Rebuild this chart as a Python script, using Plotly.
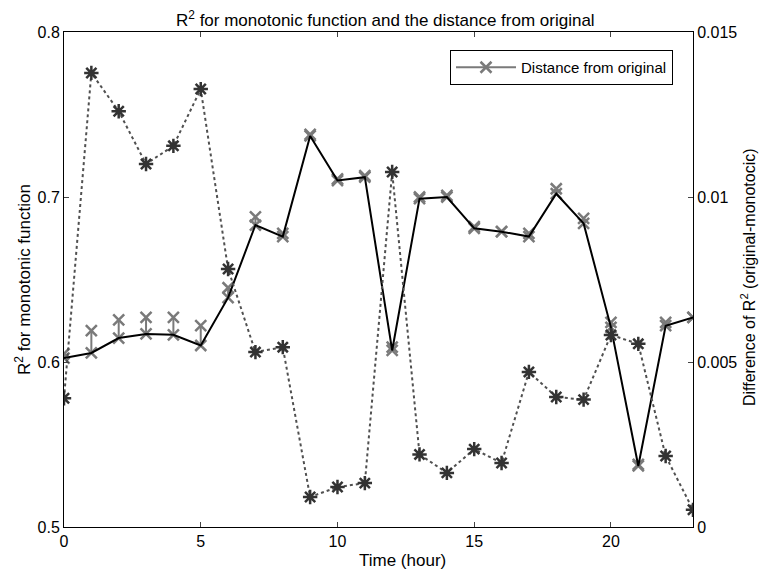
import plotly.graph_objects as go

hours = list(range(24))
# R^2 of monotonic function (left axis)
r2_mono = [0.6024, 0.6055, 0.6145, 0.617, 0.6165, 0.610, 0.639, 0.683, 0.676, 0.737,
           0.710, 0.712, 0.607, 0.699, 0.700, 0.681, 0.679, 0.676, 0.702, 0.684,
           0.621, 0.537, 0.622, 0.627]
# R^2 of original (left axis, gray x markers)
r2_orig = [0.605, 0.619, 0.6255, 0.627, 0.627, 0.622, 0.645, 0.688, 0.678, 0.738,
           0.711, 0.713, 0.609, 0.700, 0.701, 0.682, 0.679, 0.678, 0.705, 0.687,
           0.624, 0.538, 0.624, 0.627]
# Difference of R^2 (right axis)
r2_diff = [0.0039, 0.01376, 0.0126, 0.0110, 0.01155, 0.01327, 0.00782, 0.0053, 0.00545, 0.00091,
           0.00121, 0.00133, 0.01076, 0.0022, 0.00164, 0.00236, 0.00194, 0.0047, 0.00394, 0.00386,
           0.00582, 0.00555, 0.00215, 0.00052]

left_ticks = [0.5, 0.6, 0.7, 0.8]
right_ticks = [0, 0.005, 0.01, 0.015]
right_tick_text = ["0", "0.005", "0.01", "0.015"]
x_ticks = [0, 5, 10, 15, 20]

font = "Liberation Sans, Arial, sans-serif"

# build vertical distance segments
dx, dy = [], []
for h, a, b in zip(hours, r2_mono, r2_orig):
    dx += [h, h, None]
    dy += [a, b, None]

fig = go.Figure()
fig.add_trace(go.Scatter(x=dx, y=dy, mode="lines+markers", name="Distance from original",
                         line=dict(color="#7a7a7a", width=2),
                         marker=dict(symbol="x-thin-open", size=11, color="#7a7a7a",
                                     line=dict(width=2.5, color="#7a7a7a")),
                         showlegend=True))
fig.add_trace(go.Scatter(x=hours, y=r2_mono, mode="lines", showlegend=False,
                         line=dict(color="black", width=2)))
fig.add_trace(go.Scatter(x=hours, y=r2_diff, mode="lines+markers", yaxis="y2", showlegend=False,
                         line=dict(color="#505050", width=2, dash="dot"),
                         marker=dict(symbol="asterisk-open", size=12, color="#333333",
                                     line=dict(width=2.5, color="#333333"))))

L, R, T, B = 64, 693, 32, 527
W, H = R - L, B - T

def px(x):
    return (x - L) / W

def py(y):
    return (B - y) / H

fig.update_layout(
    width=761, height=571,
    margin=dict(l=L, r=761 - R, t=T, b=571 - B),
    paper_bgcolor="white", plot_bgcolor="white",
    font=dict(family=font, size=16, color="black"),
    xaxis=dict(range=[0, 23], tickvals=x_ticks, ticks="inside", ticklen=5,
               showline=True, linecolor="black", linewidth=1, mirror="ticks",
               showgrid=False, zeroline=False, tickfont=dict(size=16)),
    yaxis=dict(range=[0.5, 0.8], tickvals=left_ticks, ticks="inside", ticklen=5,
               showline=True, linecolor="black", linewidth=1,
               showgrid=False, zeroline=False, tickformat=".1f", tickfont=dict(size=16)),
    yaxis2=dict(range=[0, 0.015], tickvals=right_ticks, ticktext=right_tick_text,
                overlaying="y", side="right", ticks="inside", ticklen=5,
                showline=True, linecolor="black", linewidth=1,
                showgrid=False, zeroline=False, tickfont=dict(size=16)),
    legend=dict(x=px(673), xanchor="right", y=py(50), yanchor="top",
                bordercolor="black", borderwidth=1, bgcolor="white",
                font=dict(size=15), itemwidth=60, tracegroupgap=0),
    showlegend=True,
    annotations=[
        dict(text="R<sup>2</sup> for monotonic function and the distance from original",
             xref="paper", yref="paper", x=px(385), y=py(19), xanchor="center", yanchor="middle",
             showarrow=False, font=dict(size=17)),
        dict(text="Time (hour)", xref="paper", yref="paper", x=px(402), y=py(560),
             xanchor="center", yanchor="middle", showarrow=False, font=dict(size=17)),
        dict(text="R<sup>2</sup> for monotonic function", xref="paper", yref="paper",
             x=px(23), y=py(280), xanchor="center", yanchor="middle", textangle=-90,
             showarrow=False, font=dict(size=17)),
        dict(text="Difference of R<sup>2</sup> (original-monotocic)", xref="paper", yref="paper",
             x=px(748), y=py(277), xanchor="center", yanchor="middle", textangle=-90,
             showarrow=False, font=dict(size=16)),
    ],
)

fig.write_html("out.html")
